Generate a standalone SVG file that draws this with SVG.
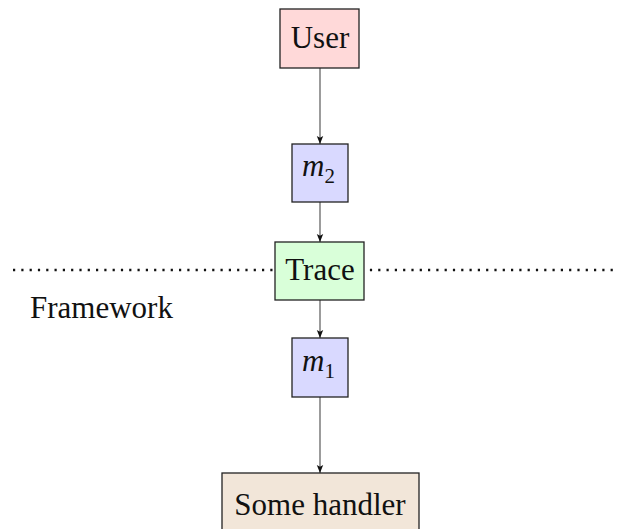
<svg xmlns="http://www.w3.org/2000/svg" width="617" height="529" viewBox="0 0 617 529">
  <style>
    .box { stroke: #222; stroke-width: 1.3; }
    .lbl { font-family: "Liberation Serif", "Times New Roman", serif; font-size: 31px; fill: #111; text-anchor: middle; }
    .math { font-family: "Liberation Serif", "Times New Roman", serif; font-style: italic; font-size: 31px; fill: #111; }
    .sub { font-style: normal; font-size: 21px; }
    .edge { stroke: #666; stroke-width: 1.3; fill: none; marker-end: url(#tip); }
    .sep { stroke: #111; stroke-width: 2.4; stroke-dasharray: 2.2 6.1; fill: none; }
  </style>
  <defs>
    <marker id="tip" viewBox="0 0 8 8" refX="8" refY="4" markerWidth="8" markerHeight="8" markerUnits="userSpaceOnUse" orient="auto">
      <path d="M0,0.8 L8,4 L0,7.2 L1.8,4 Z" fill="#111"/>
    </marker>
  </defs>

  <!-- layer boundary -->
  <line class="sep" x1="13" y1="270" x2="617" y2="270"/>
  <text class="lbl" x="30" y="318" text-anchor="start" style="text-anchor:start">Framework</text>

  <!-- connectors -->
  <g id="edges">
    <line class="edge" x1="320" y1="68" x2="320" y2="144"/>
    <line class="edge" x1="320" y1="202" x2="320" y2="242"/>
    <line class="edge" x1="320" y1="300" x2="320" y2="338"/>
    <line class="edge" x1="320" y1="397" x2="320" y2="473"/>
  </g>

  <g id="user">
    <rect class="box" x="280" y="9" width="79" height="59" fill="#ffd9d9"/>
    <text class="lbl" x="320" y="48">User</text>
  </g>

  <g id="m2">
    <rect class="box" x="292" y="144" width="56" height="58" fill="#d9d9ff"/>
    <text class="math" x="302" y="176">m<tspan class="sub" dy="7">2</tspan></text>
  </g>

  <g id="trace">
    <rect class="box" x="275" y="242" width="89" height="58" fill="#d9ffd9"/>
    <text class="lbl" x="320" y="280">Trace</text>
  </g>

  <g id="m1">
    <rect class="box" x="292" y="338" width="56" height="59" fill="#d9d9ff"/>
    <text class="math" x="302" y="371">m<tspan class="sub" dy="7">1</tspan></text>
  </g>

  <g id="handler">
    <rect class="box" x="222" y="473" width="197" height="70" fill="#f2e6d9"/>
    <text class="lbl" x="320" y="515">Some handler</text>
  </g>
</svg>
